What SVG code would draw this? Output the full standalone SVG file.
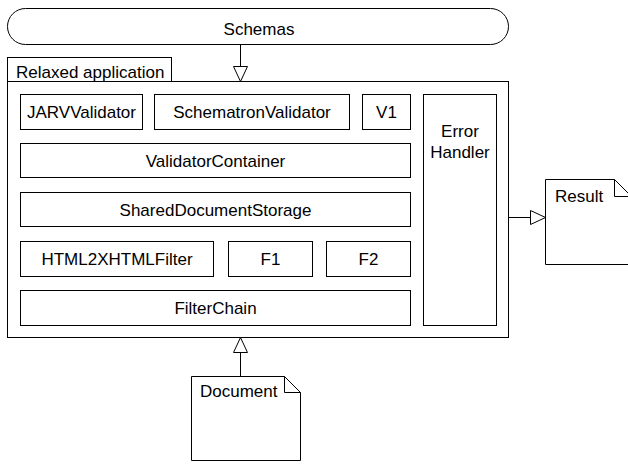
<svg xmlns="http://www.w3.org/2000/svg" width="628" height="464" viewBox="0 0 628 464">
<defs>
<style>
.b{fill:#fff;stroke:#000;stroke-width:1}
.t{font-family:"Liberation Sans",Arial,sans-serif;font-size:17px;fill:#000}
.m{text-anchor:middle}
.l{fill:none;stroke:#000;stroke-width:1}
</style>
<marker id="tri" markerWidth="18" markerHeight="18" refX="16" refY="8" orient="auto" markerUnits="userSpaceOnUse">
<path d="M1,1 L16,8 L1,15 Z" fill="#fff" stroke="#000" stroke-width="1"/>
</marker>
</defs>
<rect width="628" height="464" fill="#fff"/>
<g id="schemas">
<rect class="b" x="7.5" y="8.5" width="501" height="36" rx="18" ry="18"/>
<text class="t m" x="259" y="35">Schemas</text>
</g>
<g id="relaxed-application">
<rect class="b" x="7.5" y="57.5" width="164" height="24"/>
<text class="t" x="16" y="78">Relaxed application</text>
<rect class="b" x="7.5" y="81.5" width="501" height="256"/>
</g>
<g id="jarv"><rect class="b" x="20.5" y="94.5" width="122" height="35"/><text class="t m" x="81.5" y="117.5">JARVValidator</text></g>
<g id="schematron"><rect class="b" x="154.5" y="94.5" width="195" height="35"/><text class="t m" x="252" y="117.5">SchematronValidator</text></g>
<g id="v1"><rect class="b" x="362.5" y="94.5" width="48" height="35"/><text class="t m" x="386.5" y="117.5">V1</text></g>
<g id="error-handler"><rect class="b" x="423.5" y="94.5" width="73" height="231"/><text class="t m" x="460" y="137">Error</text><text class="t m" x="460" y="158">Handler</text></g>
<g id="validator-container"><rect class="b" x="20.5" y="143.5" width="390" height="34"/><text class="t m" x="215.5" y="166.5">ValidatorContainer</text></g>
<g id="shared-document-storage"><rect class="b" x="20.5" y="192.5" width="390" height="34"/><text class="t m" x="215.5" y="215.5">SharedDocumentStorage</text></g>
<g id="html2xhtml"><rect class="b" x="20.5" y="241.5" width="193" height="35"/><text class="t m" x="117" y="264.5">HTML2XHTMLFilter</text></g>
<g id="f1"><rect class="b" x="228.5" y="241.5" width="84" height="35"/><text class="t m" x="270.5" y="264.5">F1</text></g>
<g id="f2"><rect class="b" x="326.5" y="241.5" width="84" height="35"/><text class="t m" x="368.5" y="264.5">F2</text></g>
<g id="filter-chain"><rect class="b" x="20.5" y="290.5" width="390" height="35"/><text class="t m" x="215.5" y="313.5">FilterChain</text></g>
<g id="result">
<path class="b" d="M545.5,179.5 H614.5 L631.5,196.5 V264.5 H545.5 Z"/>
<path class="l" d="M614.5,179.5 V196.5 H631.5"/>
<text class="t" x="555" y="202">Result</text>
</g>
<g id="document">
<path class="b" d="M191.5,376.5 H284.5 L300.5,392.5 V460.5 H191.5 Z"/>
<path class="l" d="M284.5,376.5 V392.5 H300.5"/>
<text class="t" x="200" y="397">Document</text>
</g>
<g id="connectors">
<line class="l" x1="240.5" y1="44.5" x2="240.5" y2="81.5" marker-end="url(#tri)"/>
<line class="l" x1="508.5" y1="217.5" x2="545.5" y2="217.5" marker-end="url(#tri)"/>
<line class="l" x1="240.5" y1="376.5" x2="240.5" y2="337.5" marker-end="url(#tri)"/>
</g>
</svg>
